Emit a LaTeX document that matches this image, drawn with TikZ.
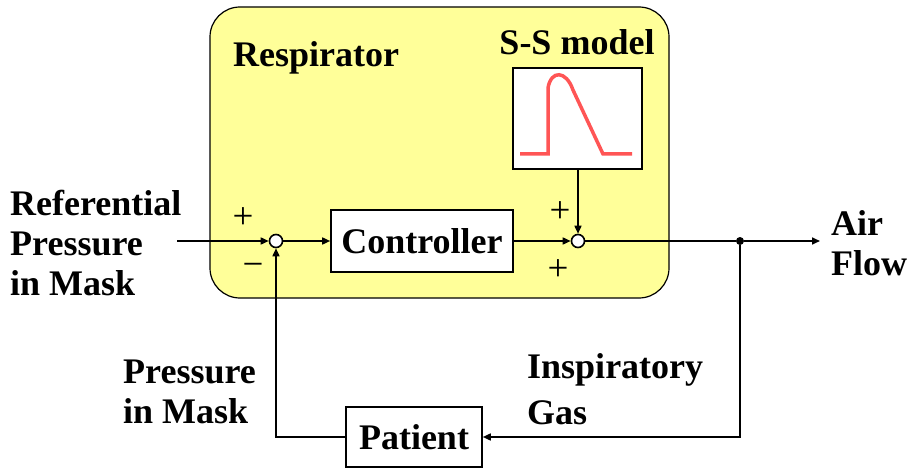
\documentclass[tikz,border=0pt]{standalone}
\usepackage{fontspec}
\setmainfont{Liberation Serif}
\definecolor{respyellow}{RGB}{255, 255, 153}
\definecolor{ssred}{RGB}{255, 85, 85}
\usetikzlibrary{arrows.meta, positioning}

\begin{document}
\begin{tikzpicture}[x=1pt, y=-1pt,
    box/.style={draw, line width=1.6pt, fill=white, inner sep=0pt,
                font=\fontsize{36}{40}\selectfont\bfseries},
    lbl/.style={inner sep=0pt, align=left, font=\fontsize{36}{40}\selectfont\bfseries},
    sgn/.style={inner sep=0pt, font=\fontsize{37}{37}\selectfont},
    sum/.style={draw, circle, line width=1.6pt, fill=white, inner sep=0pt, minimum size=13pt},
    arr/.style={-{Triangle[length=8pt, width=7pt]}, line width=1.6pt},
    wire/.style={line width=1.6pt}
  ]
    \useasboundingbox (0,0) rectangle (911,468);
    % respirator block
    \draw[fill=respyellow, line width=1.2pt, rounded corners=30pt] (210,7) rectangle (669,298);
    \node[lbl, anchor=base west] (resp) at (233,67) {Respirator};
    \node[lbl, anchor=base] (sslbl) at (577,55) {S-S model};

    \node[box, minimum width=182pt, minimum height=62pt] (ctrl) at (422,241) {Controller};
    \node[box, minimum width=129pt, minimum height=101pt] (ssm) at (577.5,118.5) {};
    \draw[ssred, line width=3.5pt] (520,154) -- (548,154) -- (548,88)
      .. controls (551,70) and (566,70) .. (573,90) -- (603,154) -- (632,154);
    \node[box, minimum width=136pt, minimum height=60pt] (pat) at (414,437) {Patient};
    \node[sum] (s1) at (276,241) {};
    \node[sum] (s2) at (578,241) {};
    \node[circle, fill, inner sep=0pt, minimum size=8pt] (dot) at (740,241) {};
    \coordinate (in) at (177,241);
    \coordinate (out) at (820,241);

    % signs
    \node[sgn] (p1) at (243,218) {+};
    \node[sgn] (m1) at (253,270) {−};
    \node[sgn] (p2) at (560,212) {+};
    \node[sgn] (p3) at (558,270) {+};

    % signal labels (base = last line)
    \node[lbl, anchor=base west] (ref) at (10,295) {Referential\\Pressure\\in Mask};
    \node[lbl, anchor=base west] (air) at (831,275) {Air\\Flow};
    \node[lbl, anchor=base west] (pim) at (123,423) {Pressure\\in Mask};
    \node[lbl, anchor=base west] (gas) at (527,424) {Inspiratory\\[6pt]Gas};

    \draw[arr] (in) -- (s1);
    \draw[arr] (s1) -- (ctrl);
    \draw[arr] (ctrl) -- (s2);
    \draw[arr] (ssm.south -| s2) -- (s2);
    \draw[wire] (s2) -- (dot);
    \draw[arr] (dot) -- (out);
    \draw[arr] (dot) |- (pat);
    \draw[arr] (pat) -| (s1);
  \end{tikzpicture}
\end{document}
